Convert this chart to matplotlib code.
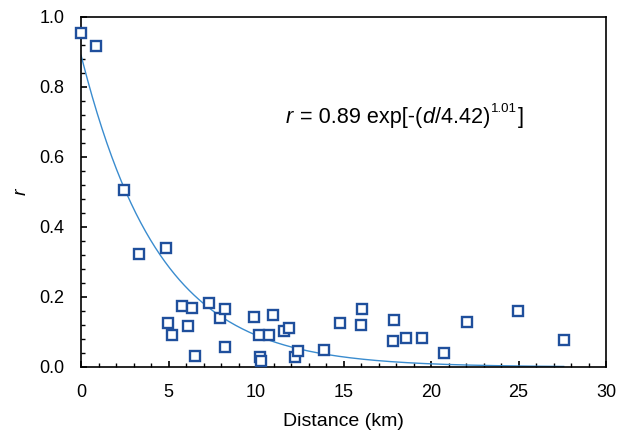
import numpy as np
import matplotlib.pyplot as plt
from matplotlib.ticker import MultipleLocator, FormatStrFormatter

plt.rcParams['font.family'] = ['Liberation Sans', 'DejaVu Sans']

# distance (km) and correlation r
distance = [0.0, 0.86, 2.46, 3.31, 4.83, 4.98, 5.18, 5.79, 6.09, 6.32, 6.49,
            7.31, 7.94, 8.21, 8.25, 9.89, 10.15, 10.23, 10.30, 10.76, 10.99,
            11.62, 11.89, 12.21, 12.42, 13.90, 14.80, 15.99, 16.03, 17.83, 17.90,
            18.59, 19.47, 20.74, 22.07, 24.95, 27.58]
r_vals = [0.954, 0.917, 0.506, 0.323, 0.339, 0.125, 0.091, 0.175, 0.117, 0.169, 0.031,
          0.183, 0.141, 0.167, 0.056, 0.143, 0.091, 0.029, 0.018, 0.091, 0.149,
          0.103, 0.110, 0.028, 0.046, 0.049, 0.125, 0.121, 0.165, 0.073, 0.133,
          0.084, 0.083, 0.039, 0.129, 0.161, 0.077]

r0, d0, c = 0.89, 4.42, 1.01

fig = plt.figure(figsize=(6.28, 4.34), dpi=100)
ax = fig.add_axes([0.129, 0.1544, 0.836, 0.807])

d = np.linspace(0, max(distance), 300)
ax.plot(d, r0 * np.exp(-(d / d0) ** c), color='#3a8ccf', lw=1.0, zorder=2)
ax.plot(distance, r_vals, 's', ms=7, mfc='white', mec='#1f4f9c', mew=1.7,
        clip_on=False, zorder=3)

# equation, built piece by piece so the exponent can be small
eq_x, eq_y = 11.72, 0.697
pieces = [('r', 15.6, 'italic', 0), (' = 0.89 exp[-(', 15.6, 'normal', 0),
          ('d', 15.6, 'italic', 0), ('/4.42)', 15.6, 'normal', 0),
          ('1.01', 9.5, 'normal', 7.5), (']', 15.6, 'normal', 0)]
prev = None
for txt, size, style, rise in pieces:
    if prev is None:
        prev = ax.text(eq_x, eq_y, txt, fontsize=size, style=style, va='baseline')
    else:
        prev = ax.annotate(txt, xy=(1, eq_y), xycoords=(prev, 'data'),
                           xytext=(0.4, rise), textcoords='offset points',
                           fontsize=size, style=style, va='baseline', ha='left')

ax.set_xlim(0, 30)
ax.set_ylim(0, 1.0)
ax.xaxis.set_major_locator(MultipleLocator(5))
ax.xaxis.set_minor_locator(MultipleLocator(1))
ax.yaxis.set_major_locator(MultipleLocator(0.2))
ax.yaxis.set_minor_locator(MultipleLocator(0.04))
ax.yaxis.set_major_formatter(FormatStrFormatter('%.1f'))
ax.tick_params(which='both', direction='in', top=False, right=False, labelsize=13)
ax.tick_params(which='major', length=4, width=1.2)
ax.tick_params(which='minor', length=3, width=1.0)
ax.tick_params(axis='x', pad=12)
ax.tick_params(axis='y', pad=12)
for s in ax.spines.values():
    s.set_linewidth(1.2)

ax.set_xlabel('Distance (km)', fontsize=14)
ax.set_ylabel('r', fontsize=14, style='italic')
ax.xaxis.set_label_coords(0.5, -0.13)
ax.yaxis.set_label_coords(-0.097, 0.5)

fig.savefig('out.png', dpi=100)
